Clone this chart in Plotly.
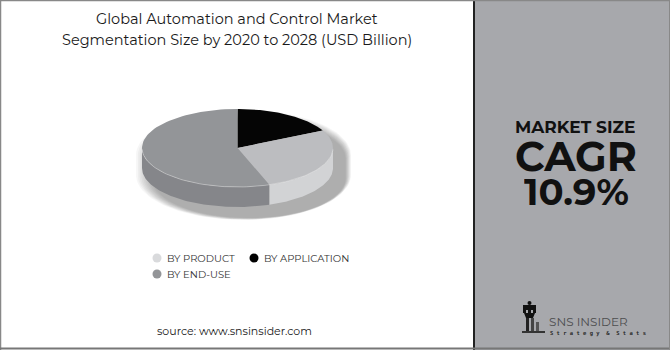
import numpy as np
import plotly.graph_objects as go

# Segment shares (clockwise from 12 o'clock)
segments = ["BY APPLICATION", "BY PRODUCT", "BY END-USE"]
shares = [17.6, 27.0, 55.4]
top_colors = ["#050505", "#bcbdc0", "#939598"]
side_colors = ["#1a1a1a", "#d2d3d5", "#85868a"]

# Legend order
legend_labels = ["BY PRODUCT", "BY APPLICATION", "BY END-USE"]
legend_colors = ["#d9dadc", "#000000", "#939598"]

title_lines = ["Global Automation and Control Market",
               "Segmentation Size by 2020 to 2028 (USD Billion)"]
cagr_value = "10.9%"

W, H = 670, 350
cx, cy, rx, ry, depth = 237.5, 148, 95.5, 39, 20

fig = go.Figure()


def rim(a0, a1, n=80, dy=0.0):
    t = np.radians(np.linspace(a0, a1, n))
    return cx + rx * np.cos(t), cy - ry * np.sin(t) + dy


# soft drop shadow (many faint translucent silhouettes, largest first)
for k in range(10):
    grow = 12 - k * 1.2
    ox, oy = 6 + 0.6 * k, 7 + 0.4 * k
    t = np.radians(np.linspace(0, 360, 120))
    sx = cx + ox + (rx + grow) * np.cos(t)
    sy = cy + oy + np.where(np.sin(t) < 0, depth, 0) - (ry + grow * 0.5) * np.sin(t)
    fig.add_trace(go.Scatter(x=sx, y=sy, mode="lines", fill="toself",
                             fillcolor="rgba(0,0,0,0.035)", line=dict(width=0),
                             hoverinfo="skip", showlegend=False))

# slice angles
bounds = []
a = 90.0
for s in shares:
    b = a - 360.0 * s / sum(shares)
    bounds.append((a, b))
    a = b

# side walls (front half only)
for (a0, a1), col in zip(bounds, side_colors):
    for lo, hi in [(-180, 0), (-540, -360), (180, 360)]:
        s0, s1 = max(a1, lo), min(a0, hi)
        if s1 > s0:
            xt, yt = rim(s1, s0)
            xb, yb = rim(s0, s1, dy=depth)
            fig.add_trace(go.Scatter(x=np.r_[xt, xb], y=np.r_[yt, yb], mode="lines",
                                     fill="toself", fillcolor=col, line=dict(width=0),
                                     hoverinfo="skip", showlegend=False))

# top faces
for (a0, a1), col, name in zip(bounds, top_colors, segments):
    xs, ys = rim(a0, a1)
    fig.add_trace(go.Scatter(x=np.r_[cx, xs, cx], y=np.r_[cy, ys, cy], mode="lines",
                             fill="toself", fillcolor=col, line=dict(width=0),
                             name=name, showlegend=False))

# subtle highlight along the front rim
xh, yh = rim(-178, -2)
fig.add_trace(go.Scatter(x=xh, y=yh, mode="lines", line=dict(color="rgba(255,255,255,0.35)", width=1),
                         hoverinfo="skip", showlegend=False))

# legend markers
leg_pos = [(157, 258), (254, 258), (157, 274)]
fig.add_trace(go.Scatter(x=[p[0] for p in leg_pos], y=[p[1] for p in leg_pos], mode="markers",
                         marker=dict(size=9, color=legend_colors), hoverinfo="skip", showlegend=False))

font = "Montserrat, Open Sans, sans-serif"
ann = []
for (px, py), lab in zip(leg_pos, legend_labels):
    ann.append(dict(x=px + 8, y=py, text=lab, xanchor="left", yanchor="middle", showarrow=False,
                    font=dict(family=font, size=10, color="#333333")))

ann.append(dict(x=237, y=19, text=title_lines[0], showarrow=False, xanchor="center", yanchor="middle",
                font=dict(family=font, size=14.5, color="#1a1a1a")))
ann.append(dict(x=237, y=40, text=title_lines[1], showarrow=False, xanchor="center", yanchor="middle",
                font=dict(family=font, size=14.5, color="#1a1a1a")))
ann.append(dict(x=234, y=331, text="source: www.snsinsider.com", showarrow=False, xanchor="center",
                yanchor="middle", font=dict(family=font, size=11, color="#1a1a1a")))

# right-hand panel headline block
ann.append(dict(x=575, y=127, text="<b>MARKET SIZE</b>", showarrow=False, xanchor="center", yanchor="middle",
                height=16, valign="middle", font=dict(family=font, size=17, color="#111111")))
ann.append(dict(x=576, y=156, text="<b>CAGR</b>", showarrow=False, xanchor="center", yanchor="middle",
                height=34, valign="middle", font=dict(family=font, size=41, color="#111111")))
ann.append(dict(x=576, y=191, text=f"<b>{cagr_value}</b>", showarrow=False, xanchor="center", yanchor="middle",
                height=30, valign="middle", font=dict(family=font, size=37, color="#111111")))

ann.append(dict(x=547, y=321, text="SNS INSIDER", showarrow=False, xanchor="left", yanchor="middle",
                font=dict(family=font, size=12, color="#4d4d4f")))
ann.append(dict(x=548, y=333, text="<b>S t r a t e g y  &  S t a t s</b>", showarrow=False, xanchor="left",
                yanchor="middle", font=dict(family="DejaVu Sans Mono", size=5.5, color="#2a2a2a")))

shapes = [
    dict(type="rect", x0=474, x1=W, y0=0, y1=H, fillcolor="#a7a8ac", line=dict(width=0), layer="below"),
    dict(type="line", x0=474, x1=474, y0=0, y1=H, line=dict(color="#222222", width=2)),
    dict(type="line", x0=0, x1=W, y0=0.5, y1=0.5, line=dict(color="#888888", width=1.5)),
    dict(type="line", x0=0.5, x1=0.5, y0=0, y1=H, line=dict(color="#888888", width=1.5)),
    dict(type="line", x0=0, x1=W, y0=348.5, y1=348.5, line=dict(color="#777777", width=2)),
    dict(type="line", x0=669.5, x1=669.5, y0=0, y1=H, line=dict(color="#888888", width=1)),
    # rook logo
    dict(type="path", path="M 523 305 L 523 313 L 526 313 L 526 310 L 528 310 L 528 313 L 531 313 L 531 310 "
                          "L 533 310 L 533 313 L 536 313 L 536 305 Z", fillcolor="#111111", line=dict(width=0)),
    dict(type="path", path="M 524 313 L 535 313 L 533 318 L 526 318 Z", fillcolor="#111111", line=dict(width=0)),
    dict(type="circle", x0=527.5, x1=531.5, y0=301, y1=305, fillcolor="#111111", line=dict(width=0)),
    dict(type="rect", x0=526, x1=529, y0=318, y1=331, fillcolor="#222222", line=dict(width=0)),
    dict(type="rect", x0=531, x1=534, y0=318, y1=331, fillcolor="#444444", line=dict(width=0)),
    dict(type="rect", x0=536, x1=539, y0=322, y1=331, fillcolor="#555555", line=dict(width=0)),
    dict(type="rect", x0=522, x1=545, y0=331, y1=333, fillcolor="#333333", line=dict(width=0)),
]

fig.update_layout(
    width=W, height=H, margin=dict(l=0, r=0, t=0, b=0),
    paper_bgcolor="white", plot_bgcolor="rgba(0,0,0,0)",
    xaxis=dict(range=[0, W], visible=False, fixedrange=True),
    yaxis=dict(range=[H, 0], visible=False, fixedrange=True),
    annotations=ann, shapes=shapes, showlegend=False,
)

fig.write_html("out.html")
